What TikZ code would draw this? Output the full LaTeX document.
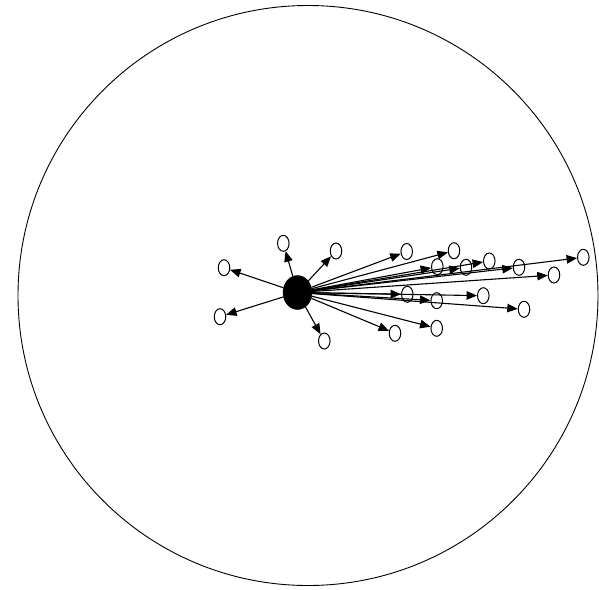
\documentclass[tikz,border=0pt]{standalone}
\usetikzlibrary{shapes.geometric,arrows.meta}
\begin{document}
\begin{tikzpicture}[x=1pt,y=-1pt,
  leaf/.style={ellipse,draw,line width=1pt,minimum width=11.5pt,minimum height=16pt,inner sep=0pt,fill=white},
  hubnode/.style={ellipse,fill=black,draw=black,minimum width=29pt,minimum height=34pt,inner sep=0pt},
  arr/.style={line width=1.1pt,-{Triangle[length=10.5pt,width=8.5pt]}}]
\useasboundingbox (0,0) rectangle (599,589);
\node[circle,draw,line width=0.9pt,minimum size=580pt,inner sep=0pt] (outer) at (308,295.5) {};
\node[hubnode] (hub) at (297.5,292.5) {};
\foreach \n/\x/\y in {a/283.3/243.3, b/336/251, c/224/267.7, d/220/316.7, e/324.3/341,
  f/406.7/251.5, g/454/250.7, h/437.3/266.7, i/466/267.3, j/489.3/261, k/519/267.3,
  l/583.3/257.3, m/554/275, n/407.3/294.3, o/436.7/300.7, p/483.3/295.7, q/524/309.3,
  r/395/333.3, s/436.7/328.3}{
  \node[leaf] (\n) at (\x,\y) {};
}
\foreach \n in {a,b,c,d,e,f,g,h,i,j,k,l,m,n,o,p,q,r,s}{
  \draw[arr] (hub) -- (\n);
}
\end{tikzpicture}
\end{document}
